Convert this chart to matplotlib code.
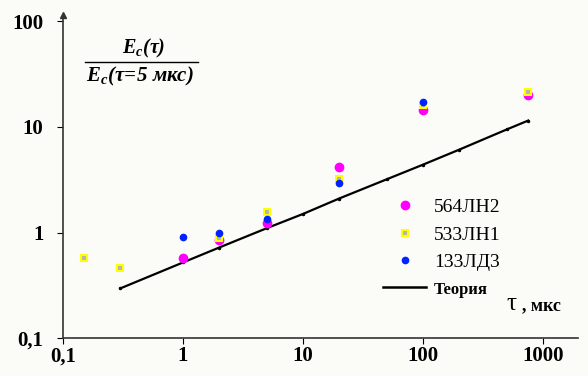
import matplotlib.pyplot as plt
from matplotlib.lines import Line2D

plt.rcParams['font.family'] = ['Liberation Serif', 'DejaVu Serif']
plt.rcParams['mathtext.fontset'] = 'custom'
plt.rcParams['mathtext.it'] = 'Liberation Serif:italic:bold'
plt.rcParams['mathtext.rm'] = 'Liberation Serif:italic:bold'

# ── Data ──────────────────────────────────────────────────────────────────────
tau_564 = [1, 2, 5, 20, 100, 750]
e_564 = [0.57, 0.84, 1.22, 4.2, 14.6, 20.3]

tau_533 = [0.15, 0.3, 2, 5, 20, 100, 750]
e_533 = [0.57, 0.46, 0.88, 1.55, 3.18, 16.0, 21.6]

tau_133 = [1, 2, 5, 20, 100]
e_133 = [0.9, 1.0, 1.33, 2.97, 17.1]

tau_theory = [0.3, 1, 2, 5, 10, 20, 50, 100, 200, 500, 750]
e_theory = [0.295, 0.52, 0.72, 1.1, 1.5, 2.1, 3.2, 4.4, 6.1, 9.5, 11.5]

x_ticks = [0.1, 1, 10, 100, 1000]
x_labels = ["0,1", "1", "10", "100", "1000"]
y_ticks = [0.1, 1, 10, 100]
y_labels = ["0,1", "1", "10", "100"]

# ── Figure ────────────────────────────────────────────────────────────────────
fig = plt.figure(figsize=(5.88, 3.76), dpi=100, facecolor="#fbfbf8")
ax = fig.add_axes([0.107, 0.101, 0.876, 0.86])
ax.set_facecolor("#fbfbf8")

ax.plot(tau_theory, e_theory, color="black", lw=1.6, marker=".", ms=3,
        zorder=2)
h564, = ax.plot(tau_564, e_564, ls="none", marker="o", ms=6, color="#ff00ff",
                zorder=3)
h533, = ax.plot(tau_533, e_533, ls="none", marker="s", ms=5, mfc="#b4b4b4",
                mec="#ffff00", mew=1.5, zorder=3)
h133, = ax.plot(tau_133, e_133, ls="none", marker="o", ms=4.5,
                color="#0022ff", zorder=4)
h_th = Line2D([], [], color="black", lw=1.8)

ax.set_xscale("log")
ax.set_yscale("log")
ax.set_xlim(0.1, 1950)
ax.set_ylim(0.1, 116)
ax.set_xticks(x_ticks)
ax.set_xticklabels(x_labels, fontsize=15, fontweight="bold")
ax.set_yticks(y_ticks)
ax.set_yticklabels(y_labels, fontsize=15, fontweight="bold")
ax.minorticks_off()
ax.tick_params(axis="x", direction="out", length=4, pad=2)
ax.tick_params(axis="y", direction="out", length=4, pad=10)
for s in ["top", "right"]:
    ax.spines[s].set_visible(False)
for s in ["left", "bottom"]:
    ax.spines[s].set_color("#333333")
    ax.spines[s].set_linewidth(1.2)

# y-axis arrow head
ax.plot([0.1], [116], marker="^", ms=4, color="#333333", clip_on=False)

# ── Y label (fraction) ────────────────────────────────────────────────────────
fig.text(0.245, 0.87, r"$E_c(\tau)$", fontsize=14.5, ha="center", va="center")
fig.add_artist(Line2D([0.145, 0.337], [0.835, 0.835], color="black", lw=1))
fig.text(0.238, 0.797, r"$E_c(\tau\!=\!5\ мкс)$", fontsize=15, ha="center",
         va="center")

# ── Legend ────────────────────────────────────────────────────────────────────
leg = ax.legend([h564, h533, h133, h_th],
                ["564ЛН2", "533ЛН1", "133ЛД3", "Теория"],
                loc="upper left", bbox_to_anchor=(0.588, 0.485), frameon=False,
                fontsize=14, handlelength=2.2, handletextpad=0.4,
                labelspacing=0.5)
leg.get_texts()[3].set_fontweight("bold")
leg.get_texts()[3].set_fontsize(12)

fig.text(0.862, 0.175, "τ", fontsize=18, ha="left", va="baseline")
fig.text(0.888, 0.175, ", мкс", fontsize=13, fontweight="bold",
         ha="left", va="baseline")

fig.savefig("out.png", dpi=100, facecolor=fig.get_facecolor())
